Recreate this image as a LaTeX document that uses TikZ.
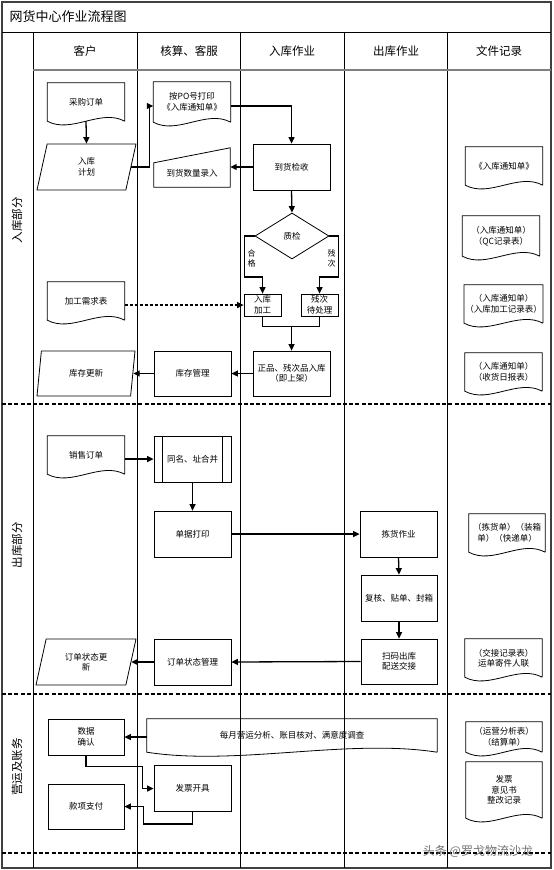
\documentclass[tikz,border=0pt]{standalone}
\usepackage{fontspec}
\setmainfont{Noto Sans CJK SC}
\usetikzlibrary{arrows.meta,shapes.geometric,calc}

\begin{document}
\begin{tikzpicture}[x=1pt,y=-1pt,
  font=\fontsize{8.5}{10.5}\selectfont,
  box/.style={draw, line width=0.8pt, minimum width=77pt, minimum height=46pt, inner sep=1pt, align=center},
  docu/.style={minimum width=77pt, minimum height=38pt, inner sep=1pt, align=center},
  slant/.style={trapezium, trapezium left angle=61, trapezium right angle=119, trapezium stretches body,
    draw, line width=0.8pt, minimum width=99pt, minimum height=46pt, inner sep=0pt, align=center},
  decide/.style={diamond, draw, line width=0.8pt, minimum width=74pt, minimum height=46pt, inner sep=0pt},
  arr/.style={line width=1.3pt, -{Triangle[length=6.5pt,width=6pt]}},
  lane/.style={line width=0.9pt},
  sep/.style={line width=1.4pt, dash pattern=on 4pt off 2.2pt}]
\useasboundingbox (0,0) rectangle (554,870);

% frame and lanes
\draw[line width=1.2pt, black!75] (2,2) rectangle (551,868);
\draw[lane] (2,32) -- (551,32);
\foreach \x in {33,137,240,344,447} \draw[lane] (\x,32) -- (\x,868);
\draw[black!50, line width=2.5pt] (33,70) -- (551,70);
\foreach \y in {404,694,853} \draw[sep] (2,\y) -- (551,\y);
\node[anchor=west, font=\fontsize{13}{15}\selectfont] (title) at (6,17) {网货中心作业流程图};
\foreach \x/\t [count=\i] in {85/客户,189/核算、客服,292/入库作业,396/出库作业,499/文件记录}
  \node[font=\fontsize{11.5}{13}\selectfont] (head\i) at (\x,51) {\t};
\node[rotate=90, font=\fontsize{11.5}{13}\selectfont] (sec1) at (17,220) {入库部分};
\node[rotate=90, font=\fontsize{11.5}{13}\selectfont] (sec2) at (17,545) {出库部分};
\node[rotate=90, font=\fontsize{11.5}{13}\selectfont] (sec3) at (17,767) {营运及账务};

% inbound
\node[docu] (purch) at (86,102) {采购订单};
\node[slant] (plan) at (86.5,167) {入库\\计划};
\node[docu, minimum height=40pt] (po) at (192,102) {按PO号打印\\《入库通知单》};
\node[docu, minimum width=76pt, minimum height=27pt] (input) at (192,173.5) {到货数量录入};
\draw[line width=0.8pt] ([yshift=-3pt]input.north west) -- ([yshift=12pt]input.north east) -- (input.south east) -- (input.south west) -- cycle;
\node[box] (recv) at (291.5,167) {到货检收};
\node[decide] (qc) at (292,236) {质检};
\node[box, minimum width=37pt, minimum height=22pt] (proc) at (262.5,305) {入库\\加工};
\node[box, minimum width=37pt, minimum height=22pt] (defect) at (319.5,305) {残次\\待处理};
\node[align=center, font=\fontsize{8}{10}\selectfont] (okay) at (251.5,258) {合\\格};
\node[align=center, font=\fontsize{8}{10}\selectfont] (bad) at (331.5,258) {残\\次};
\node[box, minimum height=45pt] (putaway) at (291.5,373.5) {正品、残次品入库\\（即上架）};
\node[docu] (need) at (86,301) {加工需求表};
\node[slant, minimum width=98pt, minimum height=45pt] (stockupd) at (86,373.5) {库存更新};
\node[box, minimum height=45pt] (stockmgmt) at (192.5,373.5) {库存管理};
\node[docu] (d1) at (504,166) {《入库通知单》};
\node[docu, minimum height=40pt] (d2) at (501,236) {（入库通知单）\\（QC记录表）};
\node[docu] (d3) at (503.5,304) {（入库通知单）\\（入库加工记录表）};
\node[docu] (d4) at (503.5,372) {（入库通知单）\\（收货日报表）};

% outbound
\node[docu] (sales) at (86,455) {销售订单};
\node[box] (merge) at (192.5,459) {同名、址合并};
\draw[line width=0.8pt] ([xshift=9pt]merge.north west) -- ([xshift=9pt]merge.south west);
\draw[line width=0.8pt] ([xshift=-9pt]merge.north east) -- ([xshift=-9pt]merge.south east);
\node[box] (print) at (192.5,534) {单据打印};
\node[box] (pick) at (398.5,534) {拣货作业};
\node[box, minimum width=76pt] (check) at (399,598) {复核、贴单、封箱};
\node[box, minimum width=76pt, minimum height=45pt] (ship) at (399,661.5) {扫码出库\\配送交接};
\node[slant, minimum width=100pt] (statusupd) at (86,662) {订单状态更\\新};
\node[box] (statusmgmt) at (192.5,662) {订单状态管理};
\node[docu, minimum width=76pt] (d5) at (507,533) {（拣货单）（装箱\\单）（快递单）};
\node[docu] (d6) at (503.5,658) {（交接记录表）\\运单寄件人联};

% accounts
\node[box, minimum width=76pt, minimum height=36pt] (confirm) at (86,737) {数据\\确认};
\node[docu, minimum width=290pt, minimum height=33pt] (monthly) at (292,735.5) {每月营运分析、账目核对、满意度调查};
\node[box] (invoice) at (192.5,788.5) {发票开具};
\node[box, minimum width=76pt, minimum height=45pt] (pay) at (86,806.5) {款项支付};
\node[docu, minimum width=76pt, minimum height=30pt] (d7) at (504,737) {（运营分析表）\\（结算单）};
\node[docu, minimum width=76pt, minimum height=56pt] (d8) at (504,790) {发票\\意见书\\整改记录};

% document outlines
\foreach \n/\c/\a in {purch/24/13,po/24/13,need/24/13,sales/24/13,d1/24/13,d2/24/13,d3/24/13,
    d4/24/13,d5/24/13,d6/24/13,d7/24/13,d8/24/13,monthly/90/14}
  \draw[line width=0.8pt] (\n.south east) -- (\n.north east) -- (\n.north west) -- (\n.south west)
    .. controls +(\c,\a) and +(-\c,-\a) .. (\n.south east);

% connectors
\draw[arr] (purch.south) -- (plan.north);
\draw[arr] (plan.right side) -- ++(18,0) |- ([yshift=-4pt]po.west);
\draw[arr] ([yshift=-4pt]po.east) -| (recv.north);
\draw[arr] (recv.west) -- (recv.west -| input.east);
\draw[arr] (recv.south) -- (qc.north);
\draw[arr] (qc.west) -- ++(-10,0) -- ++(0,41) -| (proc.north);
\draw[arr] (qc.east) -- ++(9,0) -- ++(0,41) -| (defect.north);
\coordinate (join) at ([yshift=24pt]putaway.north);
\draw[line width=1.3pt] (proc.south) |- (join) -| (defect.south);
\draw[arr] (join) -- (putaway.north);
\draw[arr] (putaway.west) -- (stockmgmt.east);
\draw[arr] (stockmgmt.west) -- (stockupd.right side);
\draw[arr, dash pattern=on 3pt off 2pt] (proc.west -| need.east) -- (proc.west);

\draw[arr] (merge.west -| sales.east) -- (merge.west);
\draw[arr] (merge.south) -- (print.north);
\draw[arr] (print.east) -- (pick.west);
\draw[arr] (pick.south) -- (check.north);
\draw[arr] (check.south) -- (ship.north);
\draw[arr] (ship.west) -- (statusmgmt.east);
\draw[arr] (statusmgmt.west) -- (statusupd.right side);

\draw[arr] (confirm.east -| monthly.west) -- (confirm.east);
\draw[arr] (confirm.south) -- ++(0,11) -| ([xshift=-11pt]invoice.west) -- (invoice.west);
\draw[arr] (invoice.south) -- ++(0,12) -| ([xshift=19pt]pay.east) -- (pay.east);

\node[font=\fontsize{12}{14}\selectfont, text=black!55] (mark) at (478,851) {头条 @罗戈物流沙龙};
\end{tikzpicture}
\end{document}
